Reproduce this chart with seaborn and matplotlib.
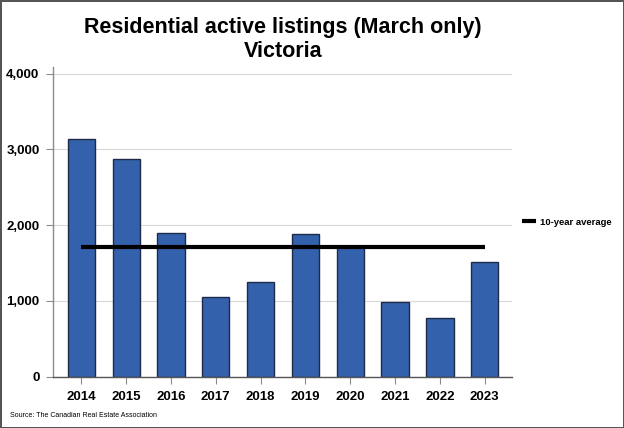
import matplotlib
matplotlib.use("Agg")
import matplotlib.pyplot as plt
import seaborn as sns
import pandas as pd
from matplotlib.ticker import FuncFormatter

# --- data ---
years = ["2014", "2015", "2016", "2017", "2018", "2019", "2020", "2021", "2022", "2023"]
listings = [3140, 2875, 1900, 1047, 1253, 1877, 1712, 990, 770, 1516]
ten_year_avg = 1707

bar_color = "#3461AB"
edge_color = "#1E2B48"

sns.set_theme(style="white")
plt.rcParams["font.family"] = ["Liberation Sans", "DejaVu Sans"]
plt.rcParams["text.color"] = "black"
plt.rcParams["xtick.labelcolor"] = "black"
plt.rcParams["ytick.labelcolor"] = "black"

df = pd.DataFrame({"year": years, "listings": listings})
avg_df = pd.DataFrame({"year": years, "avg": [ten_year_avg] * len(years)})

fig, ax = plt.subplots(figsize=(6.24, 4.28), dpi=100)
fig.subplots_adjust(left=0.0855, right=0.8205, bottom=0.12, top=0.844)

sns.barplot(data=df, x="year", y="listings", color=bar_color, edgecolor=edge_color,
            linewidth=1.0, width=0.61, saturation=1, ax=ax, zorder=2)
sns.lineplot(data=avg_df, x="year", y="avg", color="black", linewidth=3,
             label="10-year average", ax=ax, zorder=3, solid_capstyle="butt")

ax.set_xlim(-0.625, 9.61)
ax.set_ylim(0, 4090)
ax.set_yticks([0, 1000, 2000, 3000, 4000])
ax.yaxis.set_major_formatter(FuncFormatter(lambda v, p: f"{int(v):,}"))
ax.grid(axis="y", color="#D9D9D9", linewidth=0.8, zorder=0)
ax.set_axisbelow(True)
ax.set_xlabel("")
ax.set_ylabel("")

for side in ["top", "right"]:
    ax.spines[side].set_visible(False)
ax.spines["left"].set_color("#8C8C8C")
ax.spines["bottom"].set_color("#555555")
ax.spines["left"].set_linewidth(1.0)
ax.spines["bottom"].set_linewidth(1.0)

ax.tick_params(axis="both", which="major", direction="out", length=5, width=0.8,
               color="#8C8C8C", labelsize=9.5, pad=5, bottom=True, left=True)
for label in ax.get_xticklabels() + ax.get_yticklabels():
    label.set_fontweight("bold")

ax.set_title("Residential active listings (March only)\nVictoria",
             fontsize=15.5, fontweight="bold", pad=7, linespacing=1.2, color="black")

ax.get_legend().remove()
handles, labels = ax.get_legend_handles_labels()
fig.legend(handles, labels, loc="center left", bbox_to_anchor=(0.823, 0.481),
           frameon=False, handlelength=1.45, handletextpad=0.5,
           prop={"weight": "bold", "size": 6.8})

fig.text(0.016, 0.03, "Source: The Canadian Real Estate Association", fontsize=5, ha="left", va="center")

fig.patch.set_edgecolor("#555555")
fig.patch.set_linewidth(2)

fig.savefig("out.png", dpi=100, edgecolor=fig.get_edgecolor())
